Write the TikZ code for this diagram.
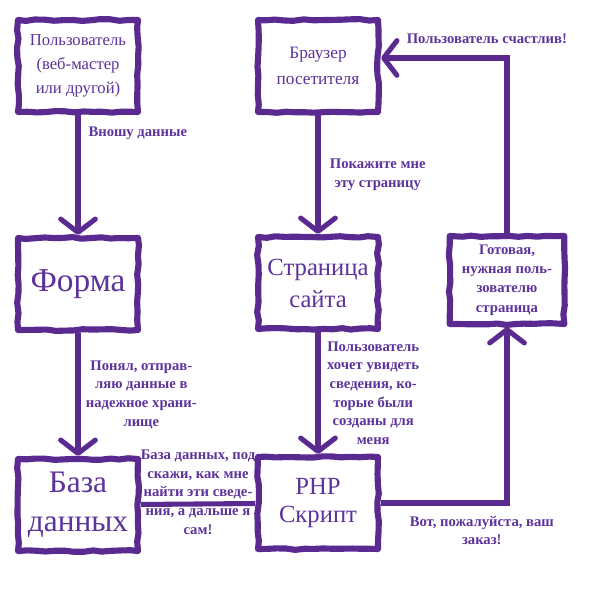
\documentclass[tikz,border=0pt]{standalone}
\usepackage{fontspec}
\setmainfont{Liberation Serif}
\usetikzlibrary{arrows.meta, positioning, calc, decorations.pathmorphing}
\definecolor{inkpurple}{RGB}{90,42,145}
\definecolor{textpurple}{RGB}{92,50,155}
\pgfdeclarelayer{back}
\pgfsetlayers{back,main}
\tikzset{
  sketchbox/.style={rectangle, draw=inkpurple, fill=white, line width=4.6pt,
    line cap=round, line join=round,
    decorate, decoration={random steps, segment length=7pt, amplitude=0.7pt},
    align=center, text=textpurple,
    minimum width=90pt, minimum height=69pt, inner sep=2pt},
  flow/.style={line width=3.8pt, color=inkpurple,
    -{Straight Barb[length=10pt, width=26pt, round]}},
  plainflow/.style={line width=3.8pt, color=inkpurple},
  note/.style={text=textpurple, font=\bfseries\fontsize{11}{14}\selectfont,
    align=center, inner sep=1pt}
}

\begin{document}
\begin{tikzpicture}[x=0.75pt, y=0.75pt]
  \pgfmathsetseed{7}
  \useasboundingbox (0,0) rectangle (591,591);

  % boxes
  \node[sketchbox, font=\fontsize{12.5}{18}\selectfont] (user) at (78,525) {Пользователь\\(веб-мастер\\или другой)};
  \node[sketchbox, font=\fontsize{13}{20}\selectfont] (browser) at (318,525) {Браузер\\посетителя};
  \node[sketchbox, font=\fontsize{25}{30}\selectfont] (form) at (78,307) {Форма};
  \node[sketchbox, font=\fontsize{18.5}{24}\selectfont] (page) at (318,308) {Страница\\сайта};
  \node[sketchbox, font=\bfseries\fontsize{11}{14.5}\selectfont,
    minimum width=86pt, minimum height=66pt] (ready) at (507,311) {Готовая,\\нужная поль-\\зователю\\страница};
  \node[sketchbox, font=\fontsize{23.5}{29}\selectfont] (db) at (78,86) {База\\данных};
  \node[sketchbox, font=\fontsize{18.5}{21}\selectfont] (php) at (318,88) {PHP\\Скрипт};

  % connectors
  \begin{pgfonlayer}{back}
    \draw[flow] (user) -- node[note, pos=0.15, right=5pt] {Вношу данные} (form);
    \draw[flow] (browser) -- node[note, midway, right=6pt] {Покажите мне\\эту страницу} (page);
    \draw[flow] (form) -- node[note, midway, right=3pt] {Понял, отправ-\\ляю данные в\\надежное храни-\\лище} (db);
    \draw[flow] (page) -- node[note, midway, right=4pt] {Пользователь\\хочет увидеть\\сведения, ко-\\торые были\\созданы для\\меня} (php);
    \draw[plainflow] (db) -- node[note, midway, yshift=9pt] {База данных, под\\скажи, как мне\\найти эти сведе-\\ния, а дальше я\\сам!} (php);
    \draw[flow] (php) -| node[note, pos=0.4, below=7pt] {Вот, пожалуйста, ваш\\заказ!} (ready);
    \draw[flow] (ready) |- node[note, pos=0.58, above=8pt] {Пользователь счастлив!} ([yshift=6pt]browser.east);
  \end{pgfonlayer}
\end{tikzpicture}
\end{document}
